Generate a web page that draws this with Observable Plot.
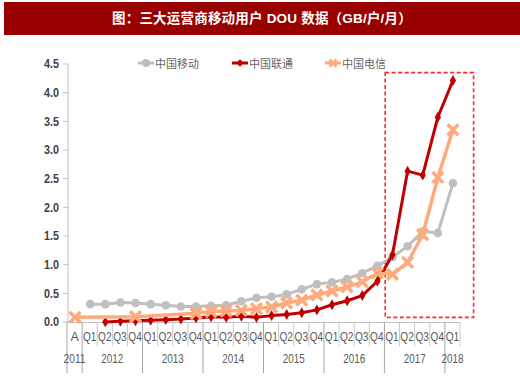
<!DOCTYPE html>
<html><head><meta charset="utf-8">
<script src="https://cdn.jsdelivr.net/npm/d3@7"></script>
<script src="https://cdn.jsdelivr.net/npm/@observablehq/plot@0.6"></script>
<style>
body{margin:0;background:#fff;}
#wrap{position:relative;width:520px;height:377px;overflow:hidden;background:#fff}
#title{position:absolute;left:4px;top:2px;width:516px;height:33px;background:#990000;color:#fff;font:bold 13.5px "Liberation Sans","Noto Sans CJK SC",sans-serif;line-height:33px;text-align:center;letter-spacing:0.2px}
#chart{position:absolute;left:0;top:36px}
.lg{position:absolute;top:55px;height:16px;display:flex;align-items:center;font:11px "Noto Sans CJK SC",sans-serif;color:#666}
.lg svg{margin-right:1px}
</style></head>
<body><div id="wrap">
<div id="title">图：三大运营商移动用户 DOU 数据（GB/户/月）</div>
<div id="chart"></div>
<div id="legend"></div>
</div>
<script>
// ---- data ----
const quarterLabels = ["A",
  "Q1","Q2","Q3","Q4", "Q1","Q2","Q3","Q4", "Q1","Q2","Q3","Q4",
  "Q1","Q2","Q3","Q4", "Q1","Q2","Q3","Q4", "Q1","Q2","Q3","Q4", "Q1"];
const yearLabels = ["2011","2012","2013","2014","2015","2016","2017","2018"];
const yearFirst = [0,1,5,9,13,17,21,25];
const yearLast  = [0,4,8,12,16,20,24,25];
const yTicks = [0,0.5,1,1.5,2,2.5,3,3.5,4,4.5];
const seriesNames = ["中国移动","中国联通","中国电信"];
const mobile  = [null,0.32,0.32,0.35,0.34,0.32,0.30,0.28,0.28,0.29,0.30,0.37,0.43,0.45,0.49,0.58,0.67,0.70,0.76,0.86,0.99,1.14,1.33,1.59,1.56,2.43];
const unicom  = [null,null,0.01,0.02,0.03,0.04,0.05,0.06,0.08,0.10,0.09,0.11,0.09,0.12,0.14,0.17,0.22,0.31,0.38,0.47,0.72,1.18,2.64,2.57,3.58,4.22];
const telecom = [0.09,null,null,null,0.10,null,null,null,0.16,0.19,0.20,0.21,0.24,0.27,0.34,0.39,0.48,0.55,0.62,0.71,0.86,0.84,1.05,1.53,2.53,3.36];
const highlight = [{x1:20.55, x2:26.4, y1:0.08, y2:4.35}];
const colors = ["#bfbfbf","#c00000","#ffaa7c"];

const rows = (arr) => arr.map((v,i)=>({i, v})).filter(d => d.v != null);
const mob = rows(mobile), uni = rows(unicom), tel = rows(telecom);
const FONT = "'Liberation Sans Narrow','Liberation Sans',sans-serif";

function axes(index, scales) {
  const x = scales.x, y = scales.y;
  const g = d3.create("svg:g");
  const x0 = x(-0.5), yb = y(0);
  // y axis
  g.append("line").attr("x1",x0+1).attr("x2",x0+1).attr("y1",yb).attr("y2",y(4.5)).attr("stroke","#bfbfbf");
  for (const t of yTicks) {
    g.append("line").attr("x1",x0-4).attr("x2",x0+1).attr("y1",y(t)).attr("y2",y(t)).attr("stroke","#bfbfbf");
    g.append("text").attr("x",x0-8).attr("y",y(t)).attr("dy","0.35em").attr("text-anchor","end")
      .attr("font-family",FONT).attr("font-weight","bold")
      .attr("font-size",12.5).attr("fill","#404040")
      .attr("textLength",15).attr("lengthAdjust","spacingAndGlyphs").text(t.toFixed(1));
  }
  // x axis
  g.append("line").attr("x1",x0).attr("x2",x(25.5)).attr("y1",yb+0.5).attr("y2",yb+0.5).attr("stroke","#bfbfbf");
  const longB = new Set([-0.5, ...yearLast.slice(0,-1).map(d=>d+0.5)]);
  for (let b = -0.5; b <= 25.5; b += 1) {
    const long = longB.has(b);
    g.append("line").attr("x1",x(b)).attr("x2",x(b)).attr("y1",yb).attr("y2",yb + (long ? 51 : 24))
      .attr("stroke", long ? "#a6a6a6" : "#c8c8c8");
  }
  quarterLabels.forEach((q,i)=>{
    const t = g.append("text").attr("x",x(i)).attr("y",yb+15).attr("dy","0.35em").attr("text-anchor","middle")
      .attr("font-family",FONT).attr("font-size",12.5)
      .attr("fill","#595959").text(q);
    if (q.length > 1) t.attr("textLength",13.5).attr("lengthAdjust","spacingAndGlyphs");
  });
  yearLabels.forEach((t,k)=>{
    g.append("text").attr("x",x((yearFirst[k]+yearLast[k])/2)).attr("y",yb+36).attr("dy","0.35em").attr("text-anchor","middle")
      .attr("font-family",FONT).attr("font-size",13)
      .attr("fill","#595959").attr("textLength",22).attr("lengthAdjust","spacingAndGlyphs").text(t);
  });
  return g.node();
}

const chart = Plot.plot({
  width: 520, height: 341,
  marginLeft: 67, marginRight: 60, marginTop: 28, marginBottom: 55,
  x: {domain:[-0.5,25.5], axis:null},
  y: {domain:[0,4.5], axis:null},
  marks: [
    Plot.rect(highlight, {x1:"x1", x2:"x2", y1:"y1", y2:"y2", fill:"none", stroke:"#ff2a2a", strokeWidth:1.6, strokeDasharray:"4,2.5"}),
    axes,
    Plot.line(mob, {x:"i", y:"v", stroke:colors[0], strokeWidth:3}),
    Plot.dot(mob, {x:"i", y:"v", r:4.3, fill:colors[0], symbol:"circle"}),
    Plot.line(uni, {x:"i", y:"v", stroke:colors[1], strokeWidth:3}),
    Plot.dot(uni, {x:"i", y:"v", r:3.3, fill:colors[1], symbol:"diamond"}),
    Plot.line(tel, {x:"i", y:"v", stroke:colors[2], strokeWidth:3.5}),
    Plot.dot(tel, {x:"i", y:"v", r:5, stroke:colors[2], strokeWidth:3.5, symbol:"times"})
  ]
});
document.getElementById("chart").appendChild(chart);

// legend
const legendLeft = [138, 232, 325];
seriesNames.forEach((name,k)=>{
  const div = document.createElement("div");
  div.className = "lg";
  div.style.left = legendLeft[k] + "px";
  let mk;
  if (k===0) mk = `<circle cx="8" cy="8" r="4" fill="${colors[0]}"/>`;
  else if (k===1) mk = `<path d="M8 4.2 L11.8 8 L8 11.8 L4.2 8Z" fill="${colors[1]}"/>`;
  else mk = `<path d="M4.5 4.5 L11.5 11.5 M11.5 4.5 L4.5 11.5" stroke="${colors[2]}" stroke-width="3"/>`;
  div.innerHTML = `<svg width="16" height="16"><line x1="0" x2="16" y1="8" y2="8" stroke="${colors[k]}" stroke-width="3"/>${mk}</svg><span>${name}</span>`;
  document.getElementById("legend").appendChild(div);
});
</script>
</body></html>
